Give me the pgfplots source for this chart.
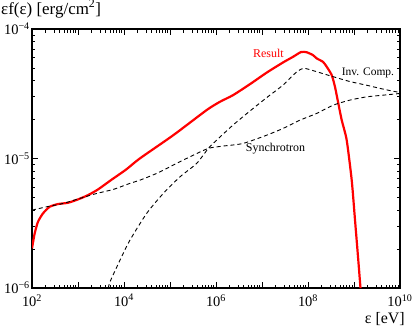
\documentclass[border=0pt]{standalone}
\usepackage{fontspec}
\setmainfont{Liberation Serif}
\usepackage{pgfplots}
\pgfplotsset{compat=1.18}
\begin{document}
\begin{tikzpicture}
\begin{axis}[
  xmode=log, ymode=log,
  scale only axis, width=368bp, height=259bp,
  xmin=1e2, xmax=1e10, ymin=1e-6, ymax=1e-4,
  clip mode=individual,
  axis line style={line width=1.5bp},
  tick style={line width=0.8bp, black},
  major tick length=6bp, minor tick length=3.5bp,
  tick align=inside,
  xtick={1e2,1e3,1e4,1e5,1e6,1e7,1e8,1e9,1e10},
  minor xtick={2e2,3e2,4e2,5e2,6e2,7e2,8e2,9e2,
    2e3,3e3,4e3,5e3,6e3,7e3,8e3,9e3,
    2e4,3e4,4e4,5e4,6e4,7e4,8e4,9e4,
    2e5,3e5,4e5,5e5,6e5,7e5,8e5,9e5,
    2e6,3e6,4e6,5e6,6e6,7e6,8e6,9e6,
    2e7,3e7,4e7,5e7,6e7,7e7,8e7,9e7,
    2e8,3e8,4e8,5e8,6e8,7e8,8e8,9e8,
    2e9,3e9,4e9,5e9,6e9,7e9,8e9,9e9},
  xticklabels={10\textsuperscript{2},,10\textsuperscript{4},,10\textsuperscript{6},,10\textsuperscript{8},,10\textsuperscript{10}},
  ytick={1e-6,1e-5,1e-4},
  minor ytick={2e-6,3e-6,4e-6,5e-6,6e-6,7e-6,8e-6,9e-6,
    2e-5,3e-5,4e-5,5e-5,6e-5,7e-5,8e-5,9e-5},
  yticklabel={},
  yticklabels={10\textsuperscript{−6},10\textsuperscript{−5},10\textsuperscript{−4}},
  tick label style={font=\fontsize{14.5}{14.5}\selectfont},
  yticklabel style={inner sep=0pt, xshift=-2bp},
  xticklabel style={inner sep=0pt, yshift=-6bp},
]
\addplot[red, line width=2.2bp, smooth, tension=0.4] coordinates {
(100,2.028e-6) (114.3,2.642e-6) (134.9,3.251e-6) (173.4,3.776e-6) (242.1,4.246e-6)
(367.3,4.457e-6) (606.7,4.560e-6) (1000,4.842e-6) (1648,5.224e-6) (2723,5.781e-6)
(5212,6.823e-6) (11040,8.22e-6) (22280,1.005e-5) (118000,1.517e-5) (626600,2.371e-5)
(1.222e6,2.748e-5) (2.344e6,3.090e-5) (5.483e6,3.758e-5) (1.265e7,4.613e-5)
(2.884e7,5.534e-5) (4.721e7,6.109e-5) (7.079e7,6.653e-5) (9.376e7,6.622e-5)
(1.285e8,6.295e-5) (1.545e8,5.943e-5) (2.118e8,5.585e-5) (2.553e8,5.117e-5)
(3.273e8,4.416e-5) (3.864e8,3.581e-5) (4.560e8,2.667e-5) (5.408e8,1.982e-5)
(6.934e8,1.390e-5) (8.913e8,6.823e-6) (1.052e9,3.350e-6) (1.239e9,1.644e-6) (1.384e9,1.0e-6)
};
\addplot[black, line width=0.9bp, dash pattern=on 4bp off 3bp, smooth, tension=0.4] coordinates {
(4560,1.0e-6) (4966,1.119e-6) (8185,1.644e-6) (13490,2.350e-6) (31120,3.776e-6)
(71450,5.383e-6) (164800,7.228e-6) (380200,9.183e-6) (680800,1.199e-5)
(1.035e6,1.390e-5) (2.344e6,1.816e-5) (5.483e6,2.333e-5) (1.265e7,2.958e-5)
(2.864e7,3.698e-5) (5.675e7,4.677e-5) (7.907e7,4.977e-5) (1e8,4.909e-5)
(1.545e8,4.688e-5) (3.565e8,4.285e-5) (8.185e8,3.936e-5) (1.919e9,3.681e-5)
(4.487e9,3.428e-5) (1e10,3.236e-5)
};
\addplot[black, line width=0.9bp, dash pattern=on 4bp off 3bp, smooth, tension=0.4] coordinates {
(100,4.0e-6) (208.9,4.246e-6) (478.6,4.508e-6) (1104,4.932e-6) (2553,5.383e-6)
(5848,5.781e-6) (13490,6.442e-6) (22280,6.823e-6) (51400,7.691e-6) (118000,8.913e-6)
(272300,1.033e-5) (680800,1.199e-5) (1.442e6,1.250e-5) (3.864e6,1.309e-5)
(1.265e7,1.517e-5) (2.864e7,1.710e-5) (6.699e7,1.982e-5) (1.545e8,2.234e-5)
(3.548e8,2.588e-5) (8.185e8,2.831e-5) (1.888e9,2.999e-5) (4.335e9,3.090e-5) (1e10,3.184e-5)
};
\node[anchor=base east, text=red, font=\fontsize{12}{12}\selectfont, inner sep=0pt] at (axis cs:3.0e7,6.08e-5) {Result};
\node[anchor=base west, font=\fontsize{11.5}{11.5}\selectfont, inner sep=0pt] at (axis cs:5.408e8,4.416e-5) {Inv. Comp.};
\node[anchor=base west, font=\fontsize{12}{12}\selectfont, inner sep=0pt] at (axis cs:4.43e6,1.132e-5) {Synchrotron};
\node[anchor=base west, font=\fontsize{17}{17}\selectfont, inner sep=0pt] at ([xshift=-31bp,yshift=15bp]rel axis cs:0,1) {εf(ε) [erg/cm\textsuperscript{2}]};
\node[anchor=base east, font=\fontsize{16}{16}\selectfont, inner sep=0pt] at ([xshift=5bp,yshift=-35bp]rel axis cs:1,0) {ε [eV]};
\path ([xshift=-32bp,yshift=-42bp]rel axis cs:0,0) rectangle ([xshift=16bp,yshift=29bp]rel axis cs:1,1);
\end{axis}
\end{tikzpicture}
\end{document}
